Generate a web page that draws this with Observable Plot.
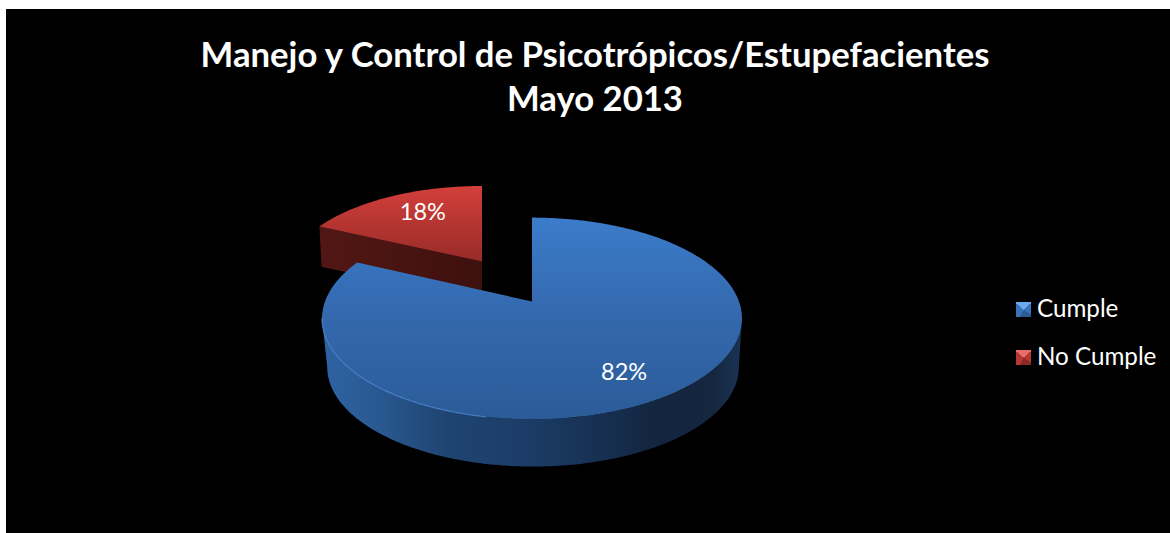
<!DOCTYPE html>
<html lang="es">
<head>
<meta charset="utf-8">
<script src="https://cdn.jsdelivr.net/npm/d3@7"></script>
<script src="https://cdn.jsdelivr.net/npm/@observablehq/plot@0.6"></script>
<style>
  html, body { margin: 0; padding: 0; background: #fff; overflow: hidden; }
  #chart { position: absolute; left: 6px; top: 9px; width: 1164px; height: 524px; background: #000; overflow: hidden; font-family: Lato, sans-serif; color: #fff; }
  #title { position: absolute; left: 0; top: 23px; width: 1178px; text-align: center; font-weight: 700; font-size: 34.7px; line-height: 44px; }
  #plot { position: absolute; left: 0; top: 121px; }
  #plot svg { display: block; background: transparent; }
  #legend { position: absolute; left: 1010px; top: 284px; font-size: 24.2px; }
  .row { position: absolute; left: 0; white-space: nowrap; height: 30px; line-height: 30px; }
  .sw { display: inline-block; width: 15px; height: 15px; vertical-align: middle; margin-right: 6px; position: relative; top: -1px; }
</style>
</head>
<body>
<div id="chart">
  <div id="title"></div>
  <div id="plot"></div>
  <div id="legend"></div>
</div>
<script>
const titleLines = ["Manejo y Control de Psicotrópicos/Estupefacientes", "Mayo 2013"];
const categories = ["Cumple", "No Cumple"];
const values = [82, 18];
const swatches = [
  "conic-gradient(from -50deg, #6aaaf0 0 100deg, #3a72b8 100deg 175deg, #2c5a94 175deg 255deg, #3a72b8 255deg)",
  "conic-gradient(from -50deg, #ea6e68 0 100deg, #b53834 100deg 175deg, #8a2927 175deg 255deg, #b53834 255deg)"
];

// Title and legend
d3.select("#title").selectAll("div").data(titleLines).join("div").text(d => d);
const rows = d3.select("#legend").selectAll("div").data(categories).join("div")
  .attr("class", "row").style("top", (d, i) => (i * 48) + "px");
rows.append("span").attr("class", "sw").style("background", (d, i) => swatches[i]);
rows.append("span").text(d => d);

// Pie angles come from the values (clockwise from the top)
const total = d3.sum(values);
const arcs = d3.pie().sort(null).value(d => d)(values);

// Perspective of the tilted pie plane
const persp = 0.168;
function project(theta, r = 1, sx = 1, sy = 1, ox = 0, oy = 0) {
  const u = Math.sin(theta) * r, v = Math.cos(theta) * r, w = 1 + persp * v;
  return { x: ox + sx * u / w, y: oy + sy * v / w };
}
function arcPts(a0, a1, ...args) {
  const n = Math.max(2, Math.ceil(Math.abs(a1 - a0) / 0.01));
  return d3.range(n + 1).map(i => project(a0 + (a1 - a0) * i / n, 1, ...args));
}
const apex = (sx, sy, ox, oy) => project(0, 0, sx, sy, ox, oy);

const depth = 0.50;
const blue = arcs[0], red = arcs[1];

// Blue slice
const blueTop = [apex(1, 1, 0, 0), ...arcPts(blue.startAngle, blue.endAngle)];
const silhouette = Math.acos(-persp);
const blueSide = [
  ...arcPts(silhouette, 2 * Math.PI - silhouette),
  ...arcPts(2 * Math.PI - silhouette, silhouette, 0.98, 0.985, 0.005, -depth)
];
const blueRim = arcPts(Math.PI * 1.06, 2 * Math.PI - silhouette);

// Red slice, pulled out and further back
const rsx = 0.93, rsy = 0.9, rox = -0.2415, roy = 0.408, redDepth = 0.41;
const redTop = [apex(rsx, rsy, rox, roy), ...arcPts(red.startAngle, red.endAngle, rsx, rsy, rox, roy)];
const redCorner = project(red.startAngle, 1, rsx, rsy, rox, roy);
const redApex = apex(rsx, rsy, rox, roy);
const redSide = [
  redCorner, redApex,
  { x: redApex.x, y: redApex.y - redDepth },
  { x: redCorner.x + 0.01, y: redCorner.y - redDepth }
];

// Percent labels
const labels = [
  { ...project((blue.startAngle + blue.endAngle) / 2, 0.75, 1, 1, -0.005, -0.02), text: Math.round(values[0] / total * 100) + "%" },
  { ...project((red.startAngle + red.endAngle) / 2, 0.6, rsx, rsy, rox - 0.01, roy + 0.08), text: Math.round(values[1] / total * 100) + "%" }
];

function gradient(defs, id, horizontal, stops) {
  const g = defs.append("linearGradient").attr("id", id)
    .attr("x1", 0).attr("y1", 0).attr("x2", horizontal ? 1 : 0).attr("y2", horizontal ? 0 : 1);
  stops.forEach(([o, c]) => g.append("stop").attr("offset", o).attr("stop-color", c));
}
const defsMark = () => {
  const defs = d3.create("svg:defs");
  gradient(defs, "blueTop", false, [[0, "#3b7cca"], [0.5, "#3468ad"], [1, "#2b5c98"]]);
  gradient(defs, "blueSide", true, [[0, "#2f63a3"], [0.12, "#2a5a94"], [0.3, "#1f4471"], [0.5, "#1b3c66"], [0.8, "#13253f"], [0.93, "#14273f"], [1, "#1a3354"]]);
  gradient(defs, "redTop", false, [[0, "#d43f3b"], [1, "#982b28"]]);
  gradient(defs, "redSide", true, [[0, "#521714"], [0.5, "#481411"], [1, "#3d100e"]]);
  return defs.node();
};

const poly = (pts, fill) => Plot.line(pts, { x: "x", y: "y", fill, stroke: "none" });

const cx = 525.5, cyPx = 171, rxPx = 207, ryPx = 98;
const plot = Plot.plot({
  width: 1164,
  height: 403,
  margin: 0,
  x: { domain: [-1, 1], range: [cx - rxPx, cx + rxPx] },
  y: { domain: [-1, 1], range: [cyPx + ryPx, cyPx - ryPx] },
  axis: null,
  style: { background: "transparent", color: "#fff" },
  marks: [
    defsMark,
    poly(redSide, "url(#redSide)"),
    poly(redTop, "url(#redTop)"),
    poly(blueSide, "url(#blueSide)"),
    poly(blueTop, "url(#blueTop)"),
    Plot.line(blueRim, { x: "x", y: "y", stroke: "#4f8ad8", strokeWidth: 1.2, strokeOpacity: 0.8 }),
    Plot.text(labels, { x: "x", y: "y", text: "text", fill: "#fff", fontSize: 23.5, fontFamily: "Lato, sans-serif" })
  ]
});
document.getElementById("plot").appendChild(plot);
</script>
</body>
</html>
